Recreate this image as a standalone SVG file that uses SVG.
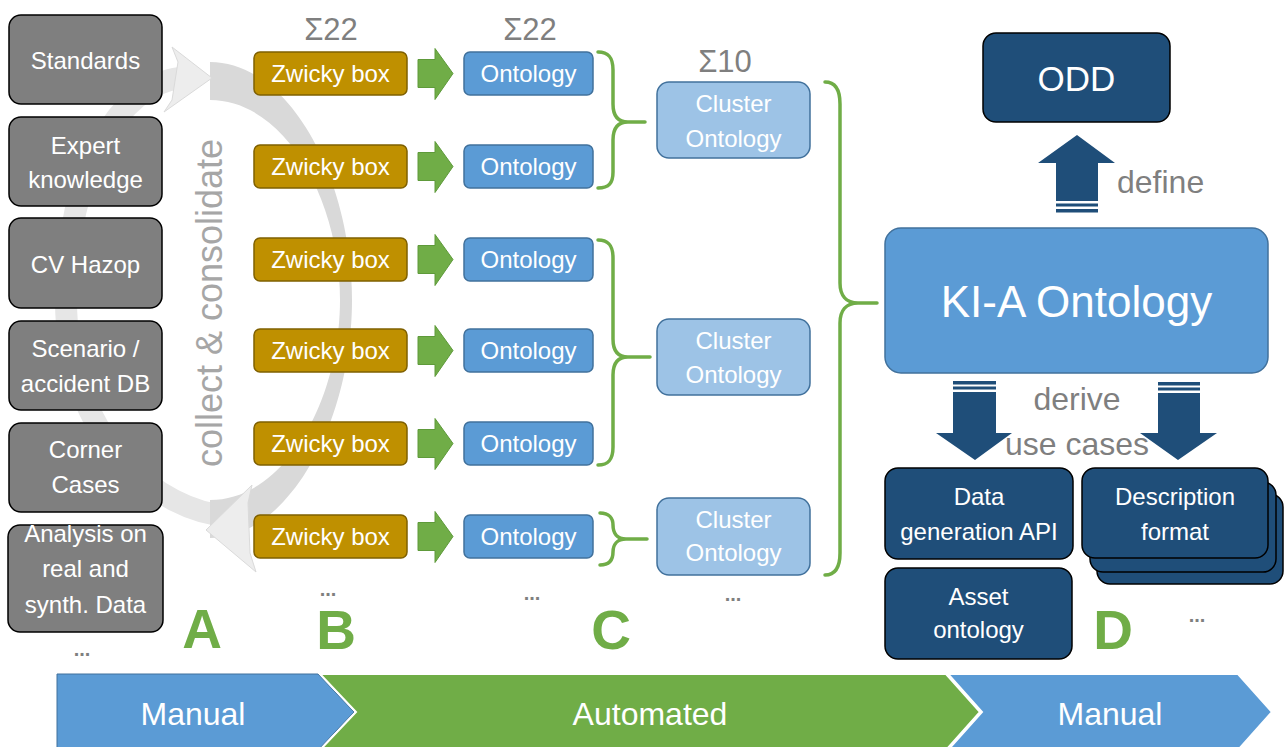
<svg xmlns="http://www.w3.org/2000/svg" xmlns:xlink="http://www.w3.org/1999/xlink" width="1284" height="747" viewBox="0 0 1284 747">
<defs>
<style>
text{font-family:"Liberation Sans",Arial,sans-serif;}
.src rect{fill:#7F7F7F;stroke:#000;stroke-width:1.5;}
.src text{fill:#fff;font-size:24px;text-anchor:middle;}
.zw rect{fill:#BF9000;stroke:#7F6000;stroke-width:1.5;}
.zw text{fill:#fff;font-size:24px;text-anchor:middle;}
.on rect{fill:#5B9BD5;stroke:#41719C;stroke-width:1.5;}
.on text{fill:#fff;font-size:24px;text-anchor:middle;}
.cl rect{fill:#9DC3E6;stroke:#41719C;stroke-width:1.5;}
.cl text{fill:#fff;font-size:24px;text-anchor:middle;}
.db rect{fill:#1F4E79;stroke:#000;stroke-width:1.5;}
.db text{fill:#fff;font-size:24px;text-anchor:middle;}
.garrow{fill:#70AD47;stroke:#5E9A3A;stroke-width:1;}
.brace{fill:none;stroke:#70AD47;stroke-width:3.5;stroke-linecap:round;}
.barrow{fill:#1F4E79;}
.sum{fill:#7F7F7F;font-size:31px;text-anchor:middle;}
.lbl{fill:#7F7F7F;font-size:32px;text-anchor:middle;}
.dots{fill:#7F7F7F;font-size:20px;font-weight:bold;text-anchor:middle;}
.letter{fill:#70AD47;font-size:55px;font-weight:bold;text-anchor:middle;}
.chev text{fill:#fff;font-size:32px;text-anchor:middle;}
</style>
</defs>

<!-- circular collect & consolidate arrow (background) -->
<g id="cycle">
  <path d="M 228,516 C 160,512 66,440 66,300 C 66,170 120,85 180,78" fill="none" stroke="#E6E6E6" stroke-width="22"/>
  <path d="M 210,62 C 290,62 352,180 352,300 C 352,420 290,538 210,538 L 210,500 C 285,500 340,400 340,300 C 340,200 285,100 210,100 Z" fill="#D9D9D9"/>
  <polygon points="212,78 172,47 178,62 172,100 164,112" fill="#EDEDED" stroke="#DADADA" stroke-width="1"/>
  <polygon points="206,530 252,485 248,503 250,553 256,572" fill="#EDEDED" stroke="#DADADA" stroke-width="1"/>
  <text x="222" y="303" transform="rotate(-90 222 303)" fill="#A6A6A6" font-size="36" text-anchor="middle">collect &amp; consolidate</text>
</g>

<!-- A: sources -->
<g id="src-standards" class="src"><rect x="9" y="15" width="153" height="89" rx="12"/><text x="85.5" y="69">Standards</text></g>
<g id="src-expert" class="src"><rect x="9" y="117" width="153" height="89" rx="12"/><text x="85.5" y="154">Expert</text><text x="85.5" y="188">knowledge</text></g>
<g id="src-cvhazop" class="src"><rect x="9" y="218" width="153" height="90" rx="12"/><text x="85.5" y="273">CV Hazop</text></g>
<g id="src-scenario" class="src"><rect x="9" y="321" width="153" height="89" rx="12"/><text x="85.5" y="357">Scenario /</text><text x="85.5" y="392">accident DB</text></g>
<g id="src-corner" class="src"><rect x="9" y="423" width="153" height="89" rx="12"/><text x="85.5" y="458">Corner</text><text x="85.5" y="493">Cases</text></g>
<g id="src-analysis" class="src"><rect x="8" y="525" width="155" height="107" rx="12"/><text x="85.5" y="542">Analysis on</text><text x="85.5" y="577">real and</text><text x="85.5" y="613">synth. Data</text></g>

<!-- B: Zwicky boxes -->
<g id="zw1" class="zw"><rect x="254" y="52" width="153" height="43" rx="6"/><text x="330.5" y="82">Zwicky box</text></g>
<g id="zw2" class="zw"><rect x="254" y="145" width="153" height="43" rx="6"/><text x="330.5" y="175">Zwicky box</text></g>
<g id="zw3" class="zw"><rect x="254" y="238" width="153" height="43" rx="6"/><text x="330.5" y="268">Zwicky box</text></g>
<g id="zw4" class="zw"><rect x="254" y="329" width="153" height="43" rx="6"/><text x="330.5" y="359">Zwicky box</text></g>
<g id="zw5" class="zw"><rect x="254" y="422" width="153" height="43" rx="6"/><text x="330.5" y="452">Zwicky box</text></g>
<g id="zw6" class="zw"><rect x="254" y="515" width="153" height="43" rx="6"/><text x="330.5" y="545">Zwicky box</text></g>

<!-- Ontologies -->
<g id="on1" class="on"><rect x="464" y="52" width="129" height="43" rx="6"/><text x="528.5" y="82">Ontology</text></g>
<g id="on2" class="on"><rect x="464" y="145" width="129" height="43" rx="6"/><text x="528.5" y="175">Ontology</text></g>
<g id="on3" class="on"><rect x="464" y="238" width="129" height="43" rx="6"/><text x="528.5" y="268">Ontology</text></g>
<g id="on4" class="on"><rect x="464" y="329" width="129" height="43" rx="6"/><text x="528.5" y="359">Ontology</text></g>
<g id="on5" class="on"><rect x="464" y="422" width="129" height="43" rx="6"/><text x="528.5" y="452">Ontology</text></g>
<g id="on6" class="on"><rect x="464" y="515" width="129" height="43" rx="6"/><text x="528.5" y="545">Ontology</text></g>

<!-- Cluster ontologies -->
<g id="cl1" class="cl"><rect x="657" y="82" width="153" height="76" rx="12"/><text x="733.5" y="112">Cluster</text><text x="733.5" y="147">Ontology</text></g>
<g id="cl2" class="cl"><rect x="657" y="319" width="153" height="76" rx="12"/><text x="733.5" y="349">Cluster</text><text x="733.5" y="383">Ontology</text></g>
<g id="cl3" class="cl"><rect x="657" y="498" width="153" height="77" rx="12"/><text x="733.5" y="528">Cluster</text><text x="733.5" y="561">Ontology</text></g>

<!-- KI-A Ontology -->
<g id="kia" class="on"><rect x="885" y="228" width="383" height="145" rx="16"/><text x="1076.5" y="317" style="font-size:44px">KI-A Ontology</text></g>

<!-- ODD -->
<g id="odd" class="db"><rect x="983" y="33" width="187" height="89" rx="13"/><text x="1076.5" y="91" style="font-size:35px">ODD</text></g>

<!-- D outputs -->
<g id="datagen" class="db"><rect x="885" y="468" width="188" height="91" rx="13"/><text x="979" y="505">Data</text><text x="979" y="540">generation API</text></g>
<g id="asset" class="db"><rect x="885" y="568" width="187" height="91" rx="13"/><text x="978.5" y="605">Asset</text><text x="978.5" y="638">ontology</text></g>
<g id="descfmt" class="db">
  <rect x="1097" y="494" width="186" height="90" rx="13"/>
  <rect x="1090" y="482" width="186" height="90" rx="13"/>
  <rect x="1082" y="468" width="186" height="90" rx="13"/>
  <text x="1175" y="505">Description</text><text x="1175" y="540">format</text>
</g>

<!-- connectors -->
<g id="connectors">
  <polygon class="garrow" points="418,59.5 435,59.5 435,48.5 453,73.5 435,99.5 435,87.5 418,87.5"/>
  <polygon class="garrow" points="418,152.5 435,152.5 435,141.5 453,166.5 435,192.5 435,180.5 418,180.5"/>
  <polygon class="garrow" points="418,245.5 435,245.5 435,234.5 453,259.5 435,285.5 435,273.5 418,273.5"/>
  <polygon class="garrow" points="418,336.5 435,336.5 435,325.5 453,350.5 435,376.5 435,364.5 418,364.5"/>
  <polygon class="garrow" points="418,429.5 435,429.5 435,418.5 453,443.5 435,469.5 435,457.5 418,457.5"/>
  <polygon class="garrow" points="418,522.5 435,522.5 435,511.5 453,536.5 435,562.5 435,550.5 418,550.5"/>

  <path class="brace" d="M598,52 C609,52 613,58 613,70 L613,104 C613,115 617,122 628,122 L645,122 M628,122 C617,122 613,129 613,140 L613,172 C613,183 609,188 598,188"/>
  <path class="brace" d="M598,240 C609,240 613,246 613,258 L613,339 C613,350 617,357 628,357 L650,357 M628,357 C617,357 613,364 613,375 L613,447 C613,459 609,465 598,465"/>
  <path class="brace" d="M600,513 C609,513 613,518 613,525 C613,533 617,539 626,539 L647,539 M626,539 C617,539 613,545 613,552 C613,560 609,565 600,565"/>
  <path class="brace" d="M825,82 C836,82 840,90 840,104 L840,283 C840,295 846,303 858,303 L877,303 M858,303 C846,303 840,311 840,323 L840,553 C840,567 836,575 825,575"/>

  <polygon class="barrow" points="1077,135 1115,163 1098,163 1098,201 1056,201 1056,163 1038,163"/>
  <rect class="barrow" x="1056" y="203.5" width="42" height="3"/>
  <rect class="barrow" x="1056" y="209" width="42" height="3.5"/>

  <rect class="barrow" x="953" y="381" width="43" height="3.5"/>
  <rect class="barrow" x="953" y="386.5" width="43" height="3"/>
  <polygon class="barrow" points="953,392 996,392 996,433 1012,433 975,460 936,433 953,433"/>
  <rect class="barrow" x="1158" y="382" width="42" height="3.5"/>
  <rect class="barrow" x="1158" y="387.5" width="42" height="3"/>
  <polygon class="barrow" points="1158,393 1200,393 1200,433 1217,433 1178,460 1140,433 1158,433"/>
</g>

<!-- labels -->
<g id="labels">
  <text class="sum" x="331" y="40">Σ22</text>
  <text class="sum" x="530" y="40">Σ22</text>
  <text class="sum" x="725" y="72">Σ10</text>
  <text class="lbl" x="1117" y="193" style="text-anchor:start">define</text>
  <text class="lbl" x="1077" y="410">derive</text>
  <text class="lbl" x="1077" y="455">use cases</text>
  <text class="dots" x="82" y="656">...</text>
  <text class="dots" x="328" y="596">...</text>
  <text class="dots" x="532" y="600">...</text>
  <text class="dots" x="733" y="601">...</text>
  <text class="dots" x="1197" y="622">...</text>
  <text class="letter" x="202" y="648">A</text>
  <text class="letter" x="336" y="649">B</text>
  <text class="letter" x="611" y="649">C</text>
  <text class="letter" x="1113" y="649">D</text>
</g>

<!-- bottom phase bar -->
<g id="phase-manual1" class="chev">
  <polygon points="57,674 318,674 354,712 318,750 57,750" fill="#5B9BD5" stroke="#41719C" stroke-width="1"/>
  <text x="193" y="725">Manual</text>
</g>
<g id="phase-automated" class="chev">
  <polygon points="320,674 946,674 980,712 946,750 320,750 356,712" fill="#70AD47" stroke="#fff" stroke-width="2"/>
  <text x="650" y="725">Automated</text>
</g>
<g id="phase-manual2" class="chev">
  <polygon points="948,674 1238,674 1272,712 1238,750 948,750 982,712" fill="#5B9BD5" stroke="#fff" stroke-width="2"/>
  <text x="1110" y="725">Manual</text>
</g>
</svg>
